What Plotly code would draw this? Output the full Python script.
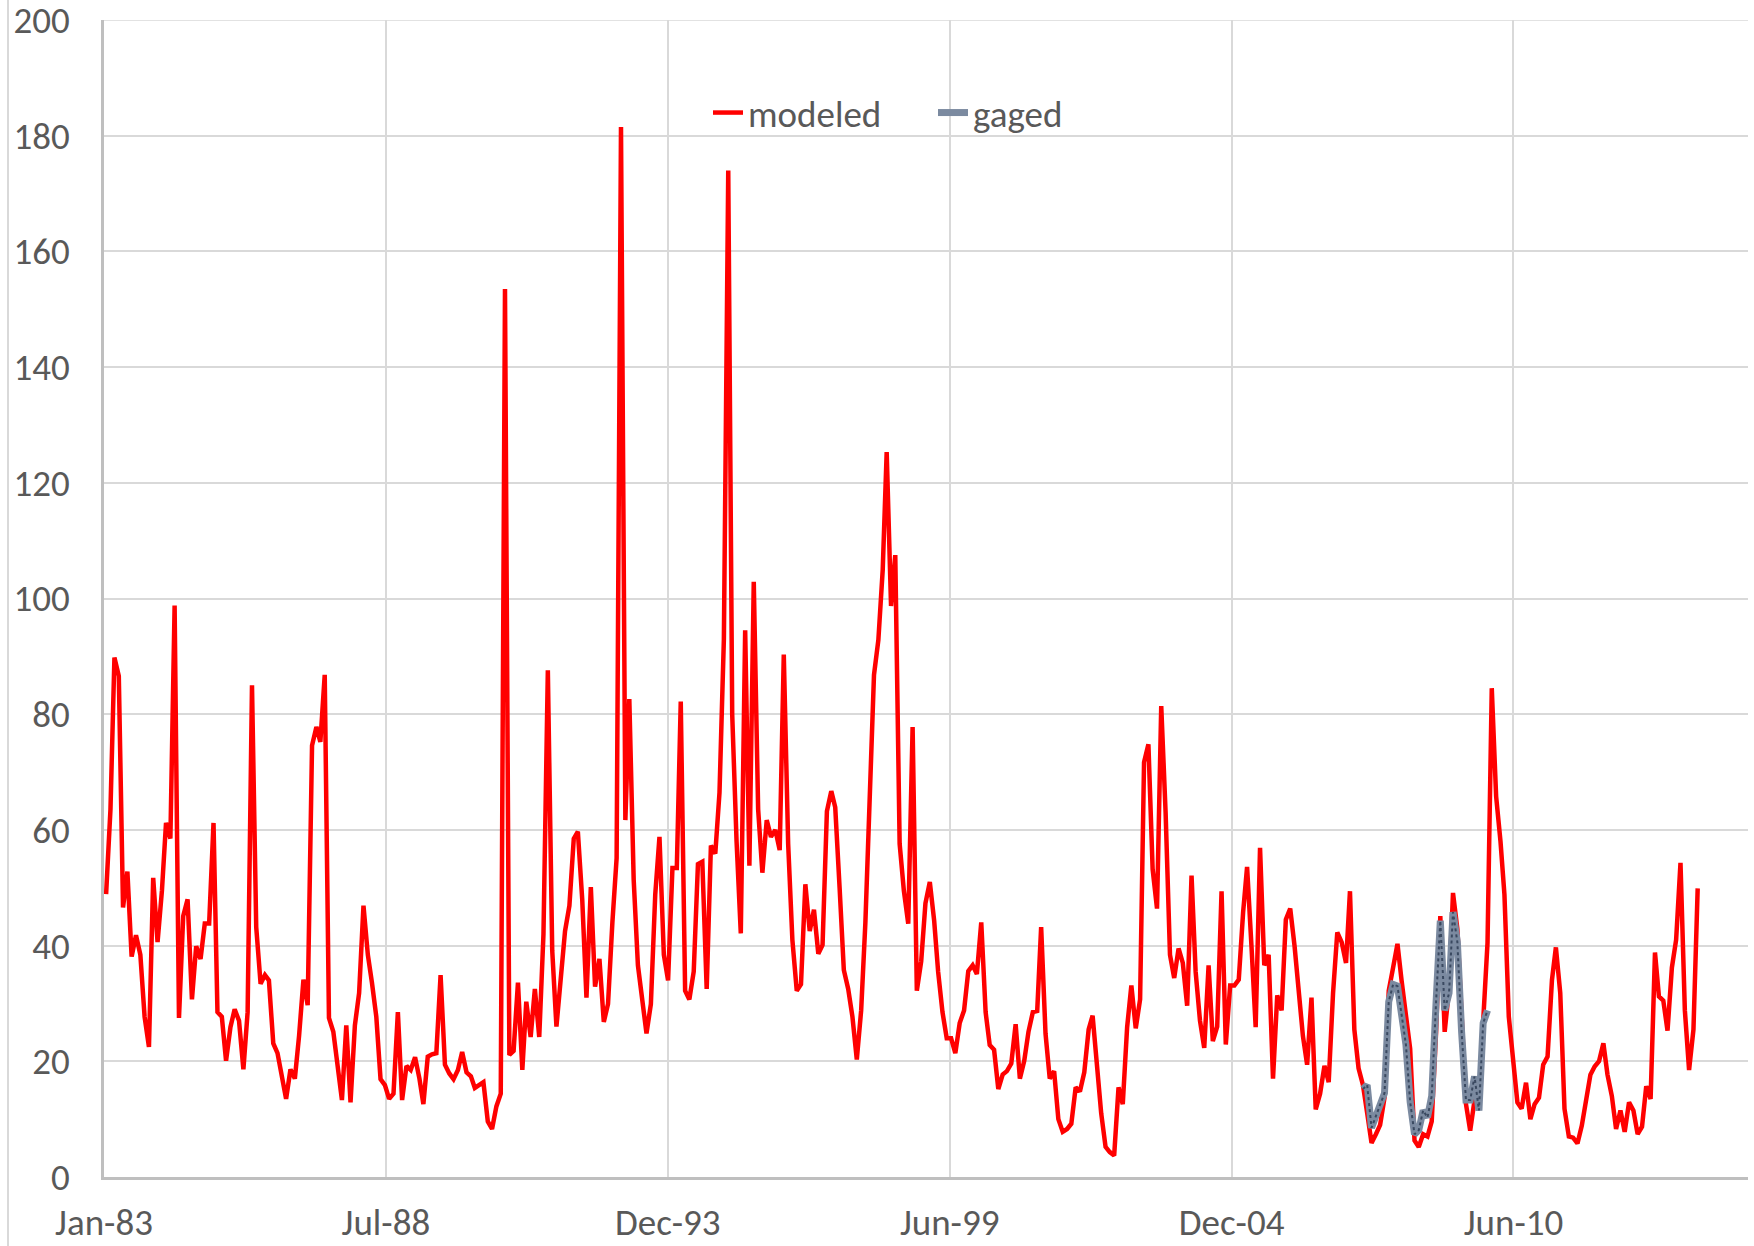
import pandas as pd
import plotly.graph_objects as go

# ---- data (monthly, Jan 1983 - Dec 2013) ----
start_date = "1983-01-01"
n_months = 372
modeled = [
    48.9, 63.6, 89.8, 86.6, 46.6, 52.8, 38.1, 41.8, 38.4, 27.7, 22.5, 51.7,
    40.6, 49.5, 61.2, 58.5, 98.8, 27.5, 45.1, 48.0, 30.7, 39.9, 37.7, 43.8,
    43.8, 61.2, 28.5, 27.7, 20.1, 25.9, 29.0, 27.0, 18.6, 28.5, 85.0, 43.2,
    33.4, 34.9, 34.0, 23.1, 21.4, 17.0, 13.5, 18.6, 17.0, 24.4, 34.1, 29.7,
    74.6, 77.8, 75.2, 86.8, 27.5, 25.1, 18.5, 13.3, 26.2, 12.9, 26.2, 31.8,
    46.9, 38.4, 33.6, 27.7, 16.9, 15.9, 13.5, 14.4, 28.5, 13.3, 19.2, 18.5,
    20.7, 17.0, 12.6, 20.8, 21.2, 21.4, 34.9, 19.4, 17.9, 16.9, 18.5, 21.6,
    18.1, 17.4, 15.4, 15.9, 16.4, 9.6, 8.3, 12.2, 14.4, 153.5, 21.1, 21.8,
    33.6, 18.5, 30.3, 24.2, 32.5, 24.2, 42.0, 87.6, 39.2, 26.0, 34.0, 42.5,
    46.9, 58.5, 59.7, 48.0, 31.0, 50.1, 32.9, 37.7, 26.8, 29.9, 44.0, 55.1,
    181.5, 61.7, 82.6, 51.4, 36.6, 30.0, 24.8, 29.9, 48.8, 58.8, 38.4, 34.0,
    53.4, 53.4, 82.2, 32.2, 30.7, 35.5, 54.1, 54.5, 32.5, 57.3, 55.9, 66.5,
    93.0, 174.0, 80.0, 58.0, 42.1, 94.5, 53.8, 102.9, 63.6, 52.6, 61.7, 58.8,
    60.0, 56.5, 90.3, 57.6, 41.0, 32.2, 33.3, 50.6, 42.5, 46.2, 38.6, 40.1,
    63.2, 66.7, 63.9, 50.0, 35.8, 32.5, 27.7, 20.3, 28.8, 44.0, 66.0, 86.8,
    92.8, 105.0, 125.3, 98.7, 107.5, 57.6, 49.5, 43.8, 77.8, 32.2, 37.3, 47.3,
    51.0, 44.3, 35.5, 28.5, 24.0, 24.0, 21.4, 26.6, 28.8, 35.6, 36.6, 35.1,
    44.0, 28.5, 22.8, 22.0, 15.2, 17.7, 18.3, 19.6, 26.4, 17.0, 20.1, 25.1,
    28.5, 28.7, 43.2, 24.8, 17.0, 18.3, 10.0, 7.8, 8.3, 9.2, 15.5, 14.8,
    18.1, 25.5, 27.9, 19.0, 11.0, 5.2, 4.3, 3.7, 15.5, 12.6, 25.9, 33.1,
    25.7, 30.7, 71.7, 74.8, 53.2, 46.4, 81.4, 63.0, 38.4, 34.4, 39.5, 37.0,
    29.6, 52.1, 35.5, 27.0, 22.3, 36.6, 23.5, 26.0, 49.4, 22.9, 33.1, 33.1,
    34.1, 45.8, 53.6, 40.0, 25.9, 56.9, 36.6, 38.4, 17.0, 31.4, 28.8, 44.5,
    46.4, 39.9, 31.4, 24.4, 19.4, 31.0, 11.7, 14.4, 19.2, 16.4, 31.8, 42.3,
    40.6, 37.0, 49.4, 25.5, 18.8, 15.9, 11.1, 5.9, 7.4, 9.0, 13.7, 32.2,
    36.2, 40.3, 34.0, 28.1, 22.2, 6.3, 5.2, 7.4, 7.0, 9.6, 25.1, 45.1,
    25.1, 32.5, 49.1, 42.9, 28.1, 12.6, 8.0, 13.3, 13.7, 28.8, 40.5, 84.5,
    65.8, 58.0, 48.8, 27.7, 20.7, 12.9, 11.8, 16.3, 10.0, 12.6, 13.7, 19.4,
    20.8, 34.0, 39.7, 31.8, 11.8, 7.0, 6.8, 5.8, 8.9, 12.9, 17.7, 19.1,
    20.0, 23.1, 17.7, 14.0, 8.3, 11.5, 7.8, 12.9, 11.5, 7.4, 8.7, 15.7,
    13.5, 38.8, 31.2, 30.5, 25.3, 36.2, 41.0, 54.3, 28.8, 18.5, 25.5, 49.9,
]
gaged_start_index = 293  # Jun 2007
gaged = [
    15.2, 15.9, 8.5, 10.5, 12.6, 14.5, 30.3, 33.3, 33.0, 28.1, 22.9, 13.0,
    7.4, 8.1, 11.5, 10.3, 14.0, 30.3, 44.3, 28.8, 31.8, 45.8, 40.6, 25.1,
    13.3, 13.3, 17.4, 11.5, 26.6, 28.8,
]
tick_labels = ["Jan-83", "Jul-88", "Dec-93", "Jun-99", "Dec-04", "Jun-10"]
tick_step_days = 2000
y_max = 200
y_ticks = list(range(0, y_max + 1, 20))

months = pd.date_range(start_date, periods=n_months, freq="MS") + pd.Timedelta(days=15)
gaged_x = months[gaged_start_index:gaged_start_index + len(gaged)]
origin = pd.Timestamp(start_date)
tick_vals = [origin + pd.Timedelta(days=tick_step_days * k) for k in range(len(tick_labels))]
x_end = origin + pd.Timedelta(days=11664)

FONT = "Carlito, Lato, sans-serif"
TXT = "#595959"
FS = 37
GRID = "#D9D9D9"

fig = go.Figure()
fig.add_trace(go.Scatter(x=months, y=modeled, mode="lines", name="modeled",
                         line=dict(color="#FF0000", width=4.5)))
fig.add_trace(go.Scatter(x=gaged_x, y=gaged, mode="lines", name="gaged",
                         line=dict(color="#7B8AA0", width=7)))
fig.add_trace(go.Scatter(x=gaged_x, y=gaged, mode="lines", showlegend=False,
                         hoverinfo="skip",
                         line=dict(color="#3A4960", width=2, dash="dot")))

W, H = 1754, 1246
ml, mr, mt, mb = 104, 6, 20, 69
pw, ph = W - ml - mr, H - mt - mb

fig.update_layout(
    width=W, height=H,
    margin=dict(l=ml, r=mr, t=mt, b=mb, autoexpand=False),
    paper_bgcolor="white", plot_bgcolor="white",
    font=dict(family=FONT, size=FS, color=TXT),
    showlegend=True,
    legend=dict(orientation="h", x=(708 - ml) / pw, xanchor="left",
                y=(H - mb - 113) / ph, yanchor="middle",
                bgcolor="rgba(0,0,0,0)", font=dict(size=FS, color=TXT),
                itemwidth=30, tracegroupgap=0,
                entrywidth=180, entrywidthmode="pixels"),
    xaxis=dict(type="date", range=[origin, x_end], tickmode="array",
               tickvals=tick_vals, ticktext=tick_labels,
               showgrid=True, gridcolor=GRID, gridwidth=1.5,
               showline=True, linecolor="#BFBFBF", linewidth=2.5,
               ticks="", ticklabelstandoff=11, zeroline=False,
               automargin=False, ticklabeloverflow="allow",
               tickfont=dict(size=FS, color=TXT, family=FONT)),
    yaxis=dict(range=[0, y_max], tickmode="array", tickvals=y_ticks,
               showgrid=True, gridcolor=GRID, gridwidth=1.5,
               showline=True, linecolor="#BFBFBF", linewidth=2.5,
               ticks="", ticklabelstandoff=24, zeroline=False,
               automargin=False, ticklabeloverflow="allow",
               tickfont=dict(size=FS, color=TXT, family=FONT)),
    shapes=[
        dict(type="line", xref="paper", yref="paper",
             x0=(8 - ml) / pw, x1=(8 - ml) / pw,
             y0=-mb / ph, y1=1 + mt / ph,
             line=dict(color=GRID, width=2)),
        dict(type="line", xref="paper", yref="y", x0=0, x1=1,
             y0=y_max, y1=y_max, layer="below",
             line=dict(color=GRID, width=1.5)),
    ],
)

fig.write_html("out.html", config={"displayModeBar": False},
               post_script="document.body.style.margin='0';")
